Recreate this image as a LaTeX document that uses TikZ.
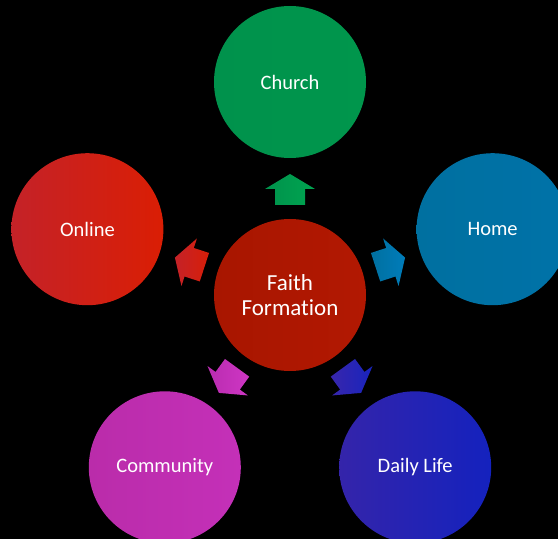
\documentclass[tikz,border=0pt]{standalone}
\usepackage{fontspec}
\setmainfont[Ligatures=NoCommon]{Carlito}
\begin{document}
\begin{tikzpicture}[x=1pt,y=1pt,
  disc/.style={circle, minimum size=152pt, inner sep=0pt, text=white,
    font=\fontsize{20.5}{24}\selectfont, align=center, shading angle=-60},
  hub/.style={disc, font=\fontsize{23}{25}\selectfont},
  blockarrow/.style={shading angle=-60}]
\useasboundingbox (0,0) rectangle (558,539);
\fill[black] (0,0) rectangle (558,539);
\clip (0,0) rectangle (558,539);

% central circle
\node[hub, shade, left color={rgb,255:red,168;green,22;blue,0}, middle color={rgb,255:red,192;green,26;blue,0}, right color={rgb,255:red,178;green,24;blue,2}] (hub) at (290,244) {Faith\\Formation};

% outer circles
\node[disc, shade, left color={rgb,255:red,0;green,146;blue,76}, middle color={rgb,255:red,0;green,166;blue,80}, right color={rgb,255:red,0;green,150;blue,76}] (church) at (290,457) {Church};
\node[disc, shade, left color={rgb,255:red,0;green,112;blue,160}, middle color={rgb,255:red,0;green,124;blue,186}, right color={rgb,255:red,0;green,114;blue,168}] (home) at (492.6,309.8) {Home};
\node[disc, shade, left color={rgb,255:red,52;green,36;blue,170}, middle color={rgb,255:red,36;green,40;blue,180}, right color={rgb,255:red,20;green,34;blue,190}] (daily) at (415.2,71.7) {Daily Life};
\node[disc, shade, left color={rgb,255:red,186;green,44;blue,170}, middle color={rgb,255:red,210;green,56;blue,196}, right color={rgb,255:red,196;green,48;blue,184}] (community) at (164.8,71.7) {Community};
\node[disc, shade, left color={rgb,255:red,196;green,34;blue,40}, middle color={rgb,255:red,206;green,36;blue,36}, right color={rgb,255:red,218;green,30;blue,4}] (online) at (87.4,309.8) {Online};

% block arrows pointing outward from the hub
\def\blockarrowpath{(-15,90) -- (15,90) -- (15,106) -- (25,106) -- (0,121) -- (-25,106) -- (-15,106) -- cycle}
\shade[blockarrow, shift={(hub.center)}, rotate=0, left color={rgb,255:red,0;green,146;blue,76}, right color={rgb,255:red,0;green,164;blue,80}] \blockarrowpath;
\shade[blockarrow, shift={(hub.center)}, rotate=-72, left color={rgb,255:red,0;green,112;blue,160}, right color={rgb,255:red,0;green,124;blue,186}] \blockarrowpath;
\shade[blockarrow, shift={(hub.center)}, rotate=-144, left color={rgb,255:red,56;green,38;blue,172}, right color={rgb,255:red,24;green,36;blue,190}] \blockarrowpath;
\shade[blockarrow, shift={(hub.center)}, rotate=144, left color={rgb,255:red,186;green,44;blue,176}, right color={rgb,255:red,206;green,54;blue,196}] \blockarrowpath;
\shade[blockarrow, shift={(hub.center)}, rotate=72, left color={rgb,255:red,196;green,34;blue,40}, right color={rgb,255:red,216;green,30;blue,8}] \blockarrowpath;
\end{tikzpicture}
\end{document}
